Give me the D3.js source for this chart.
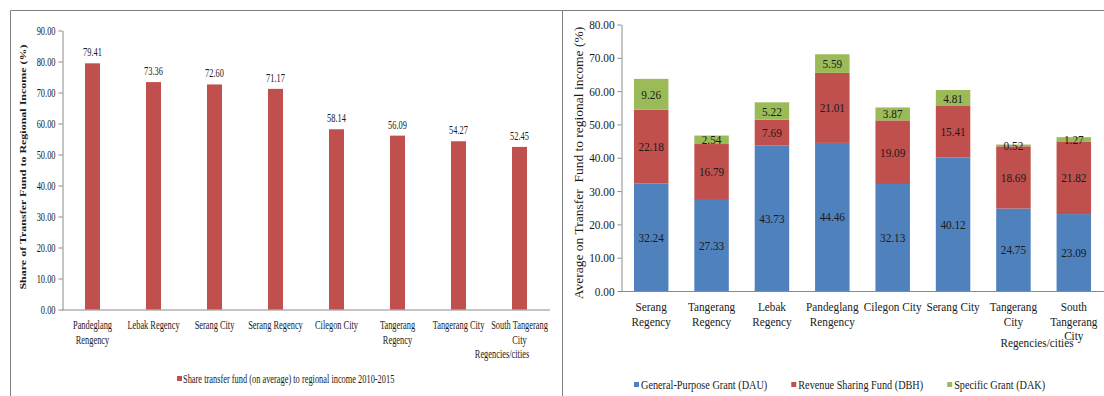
<!DOCTYPE html>
<html><head><meta charset="utf-8">
<script src="https://cdn.jsdelivr.net/npm/d3@7"></script>
<style>
html,body{margin:0;padding:0;background:#fff;}
svg{display:block;}
</style></head><body>
<svg id="c" width="1104" height="396" font-family="'Liberation Serif', 'Times New Roman', Times, serif"></svg>
<script>
// ---------- Left chart data ----------
const leftCategories = ["Pandeglang Rengency","Lebak Regency","Serang City","Serang Regency","Cilegon City","Tangerang Regency","Tangerang City","South Tangerang City"];
const leftTickLabels = [["Pandeglang","Rengency"],["Lebak Regency"],["Serang City"],["Serang Regency"],["Cilegon City"],["Tangerang","Regency"],["Tangerang City"],["South Tangerang","City"]];
const leftShare = [79.41,73.36,72.60,71.17,58.14,56.09,54.27,52.45];
const leftYTicks = [0,10,20,30,40,50,60,70,80,90];
const leftSeriesName = "Share transfer fund (on average) to regional income 2010-2015";
const leftYTitle = "Share of Transfer Fund to Regional Income (%)";

// ---------- Right chart data ----------
const rightCategories = ["Serang Regency","Tangerang Regency","Lebak Regency","Pandeglang Rengency","Cilegon City","Serang City","Tangerang City","South Tangerang City"];
const rightTickLabels = [["Serang","Regency"],["Tangerang","Regency"],["Lebak","Regency"],["Pandeglang","Rengency"],["Cilegon City"],["Serang City"],["Tangerang","City"],["South","Tangerang","City"]];
const dau = [32.24,27.33,43.73,44.46,32.13,40.12,24.75,23.09];
const dbh = [22.18,16.79,7.69,21.01,19.09,15.41,18.69,21.82];
const dak = [9.26,2.54,5.22,5.59,3.87,4.81,0.52,1.27];
const seriesKeys = ["dau","dbh","dak"];
const seriesNames = ["General-Purpose Grant (DAU)","Revenue Sharing Fund (DBH)","Specific Grant (DAK)"];
const rightYTicks = [0,10,20,30,40,50,60,70,80];
const rightYTitle = "Average on Transfer\u00a0\u00a0Fund to regional income (%)";
const xTitle = "Regencies/cities";

const FONT = "'Liberation Serif', 'Times New Roman', Times, serif";
const colors = {dau:"#4F81BD", dbh:"#C0504D", dak:"#9BBB59"};
const axisColor = "#8a8a8a";
const textColor = "#1a1a1a";
const fmt = d3.format(".2f");

const svg = d3.select("#c");

// frame
const frame = svg.append("g").attr("stroke","#7f7f7f").attr("stroke-width",1).attr("fill","none");
frame.append("path").attr("d","M10.5,396V10.5H1104");
frame.append("path").attr("d","M562.5,10.5V396");

function txt(g, s, x, y, sx, anchor, size) {
  return g.append("text")
    .attr("transform", `translate(${x},${y}) scale(${sx},1)`)
    .attr("text-anchor", anchor || "middle")
    .attr("font-family", FONT)
    .attr("font-size", size || 12)
    .attr("fill", textColor)
    .text(s);
}

// ================= LEFT CHART =================
(function(){
  const sx = 0.67;
  const g = svg.append("g");
  const x = d3.scaleBand().domain(leftCategories).range([62,550]).paddingInner(0.754).paddingOuter(0.377);
  const y = d3.scaleLinear().domain([0,90]).range([309.5,30.5]);

  const ya = g.append("g").attr("transform","translate(62.5,0)")
    .call(d3.axisLeft(y).tickValues(leftYTicks).tickFormat(fmt).tickSize(4).tickSizeOuter(0).tickPadding(3));
  ya.attr("font-family",FONT).attr("font-size",12.5);
  ya.select(".domain").attr("stroke",axisColor);
  ya.selectAll(".tick line").attr("stroke",axisColor);
  ya.selectAll(".tick text").attr("x",null).attr("fill",textColor)
    .attr("transform",`translate(-7,0) scale(${sx},1)`);

  g.append("line").attr("x1",62).attr("x2",550).attr("y1",y(0)+0.5).attr("y2",y(0)+0.5).attr("stroke",axisColor);

  g.selectAll("rect.bar").data(leftShare).join("rect").attr("class","bar")
    .attr("x",(d,i)=>x(leftCategories[i])).attr("width",x.bandwidth())
    .attr("y",d=>y(d)).attr("height",d=>y(0)-y(d)).attr("fill",colors.dbh);

  leftShare.forEach((d,i)=>{
    txt(g, fmt(d), x(leftCategories[i])+x.bandwidth()/2, y(d)-7, sx, "middle", 12.5);
  });

  leftTickLabels.forEach((lines,i)=>{
    lines.forEach((l,j)=>{
      txt(g, l, x(leftCategories[i])+x.bandwidth()/2, 329+j*14.5, sx, "middle", 12.5);
    });
  });

  txt(g, xTitle, 502, 358, sx, "middle", 12.5);

  g.append("text").attr("transform",`translate(26,167) rotate(-90) scale(1,${sx})`)
    .attr("text-anchor","middle").attr("font-family",FONT).attr("font-size",12).attr("font-weight","bold")
    .attr("fill",textColor).text(leftYTitle);

  // legend
  g.append("rect").attr("x",177).attr("y",376).attr("width",5).attr("height",5).attr("fill",colors.dbh);
  txt(g, leftSeriesName, 183, 383, sx, "start", 12.5);
})();

// ================= RIGHT CHART =================
(function(){
  const sx = 0.9;
  const g = svg.append("g");
  const x = d3.scaleBand().domain(rightCategories).range([621,1104]).paddingInner(0.429).paddingOuter(0.2145);
  const y = d3.scaleLinear().domain([0,80]).range([291,24.5]);

  const rows = rightCategories.map((c,i)=>({cat:c, dau:dau[i], dbh:dbh[i], dak:dak[i]}));
  const stacked = d3.stack().keys(seriesKeys)(rows);

  const ya = g.append("g").attr("transform","translate(621.5,0)")
    .call(d3.axisLeft(y).tickValues(rightYTicks).tickFormat(fmt).tickSize(4).tickSizeOuter(0).tickPadding(3));
  ya.attr("font-family",FONT).attr("font-size",12.5);
  ya.select(".domain").attr("stroke",axisColor);
  ya.selectAll(".tick line").attr("stroke",axisColor);
  ya.selectAll(".tick text").attr("x",null).attr("fill",textColor)
    .attr("transform",`translate(-7,0) scale(${sx},1)`);

  g.append("line").attr("x1",621).attr("x2",1104).attr("y1",y(0)+0.5).attr("y2",y(0)+0.5).attr("stroke",axisColor);

  stacked.forEach(s=>{
    g.append("g").attr("fill",colors[s.key]).selectAll("rect").data(s).join("rect")
      .attr("x",d=>x(d.data.cat)).attr("width",x.bandwidth())
      .attr("y",d=>y(d[1])).attr("height",d=>y(d[0])-y(d[1]));
  });
  stacked.forEach(s=>{
    s.forEach(d=>{
      txt(g, fmt(d[1]-d[0]), x(d.data.cat)+x.bandwidth()/2, (y(d[0])+y(d[1]))/2+4.5, sx, "middle", 12.5);
    });
  });

  rightTickLabels.forEach((lines,i)=>{
    lines.forEach((l,j)=>{
      txt(g, l, x(rightCategories[i])+x.bandwidth()/2, 311+j*14.5, sx, "middle", 12.5);
    });
  });

  txt(g, xTitle, 1037, 347, sx, "middle", 12.5);

  g.append("text").attr("transform",`translate(583,163) rotate(-90) scale(1,${sx})`)
    .attr("text-anchor","middle").attr("font-family",FONT).attr("font-size",13.5)
    .attr("fill",textColor).text(rightYTitle);

  // legend
  let lx = 634;
  seriesKeys.forEach((k,i)=>{
    g.append("rect").attr("x",lx).attr("y",382).attr("width",5).attr("height",5).attr("fill",colors[k]);
    const t = txt(g, seriesNames[i], lx+7, 389, 0.82, "start", 12.5);
    const w = t.node().getComputedTextLength()*0.82;
    lx = lx + 7 + w + 24;
  });
})();
</script>
</body></html>
